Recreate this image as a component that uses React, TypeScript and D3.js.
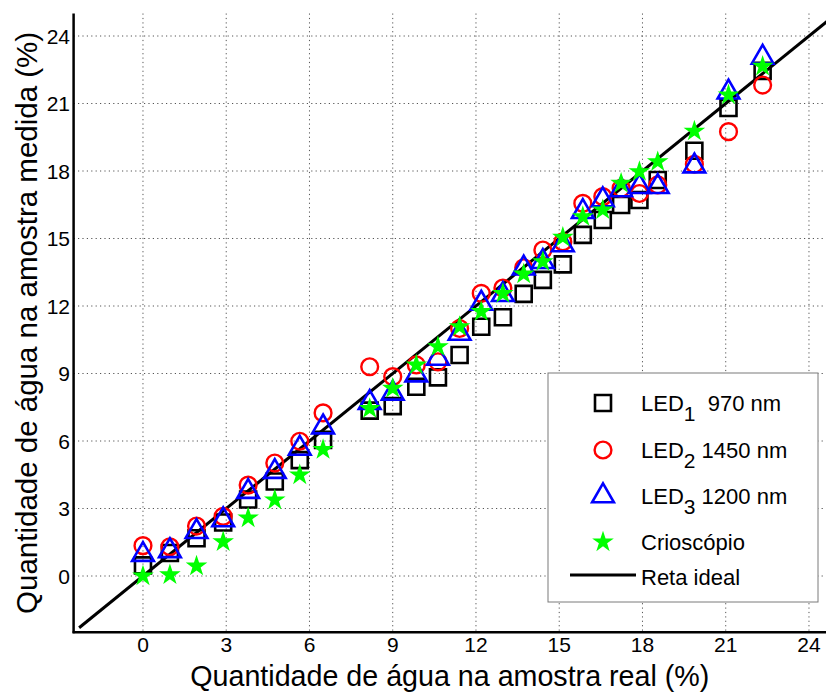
import React from "react";
import * as d3 from "d3";

const xReal = [0, 0.97, 1.93, 2.89, 3.79, 4.75, 5.65, 6.49, 8.17, 9.0, 9.85, 10.63, 11.41, 12.19, 12.97, 13.72, 14.41, 15.13, 15.85, 16.57, 17.23, 17.89, 18.55, 19.87, 21.1, 22.33];
const led1 = [0.47, 1.02, 1.68, 2.38, 3.4, 4.2, 5.15, 6.05, 7.35, 7.55, 8.41, 8.83, 9.82, 11.08, 11.5, 12.54, 13.16, 13.85, 15.16, 15.82, 16.49, 16.71, 17.6, 18.9, 20.8, 22.45];
const led2 = [1.35, 1.3, 2.22, 2.65, 4.04, 5.02, 5.99, 7.25, 9.3, 8.86, 9.38, 9.52, 11.0, 12.56, 12.8, 13.7, 14.49, 14.85, 16.56, 16.86, 17.23, 17.0, 17.38, 18.3, 19.75, 21.82];
const led3 = [0.95, 1.12, 1.97, 2.49, 3.75, 4.64, 5.67, 6.62, 7.7, 8.12, 8.93, 9.67, 10.78, 12.12, 12.5, 13.68, 13.97, 14.71, 16.19, 16.71, 17.16, 17.3, 17.3, 18.22, 21.5, 23.05];
const crio = [0.0, 0.05, 0.44, 1.52, 2.58, 3.38, 4.49, 5.62, 7.44, 8.34, 9.38, 10.19, 11.08, 11.75, 12.55, 13.42, 13.97, 15.05, 15.97, 16.27, 17.45, 17.97, 18.41, 19.77, 21.38, 22.65];
const ticks = [0, 3, 6, 9, 12, 15, 18, 21, 24];
const idealLine = [-2.3, 25];

const W = 826;
const H = 695;

export default function App() {
  const x = d3.scaleLinear().domain([-2.5, 25]).range([73.6, 73.6 + 27.5 * 27.75]);
  const y = d3.scaleLinear().domain([-2.5, 25]).range([632.25, 13.5]);
  const left = x(-2.5);
  const bottom = y(-2.5);
  const top = y(25);
  const right = W;

  const sq = d3.symbol().type(d3.symbolSquare).size(256)()!;
  const tri = d3.symbol().type(d3.symbolTriangle).size(205)()!;
  const star = d3.symbol().type(d3.symbolStar).size(145)()!;
  const line = d3.line<number>().x((d) => x(d)).y((d) => y(d));

  const font = "Liberation Sans, Arial, sans-serif";

  const legendRows = [
    { cy: 403, kind: "sq", main: "LED", sub: "1", rest: "  970 nm" },
    { cy: 450, kind: "ci", main: "LED", sub: "2", rest: " 1450 nm" },
    { cy: 496, kind: "tr", main: "LED", sub: "3", rest: " 1200 nm" },
    { cy: 542, kind: "st", main: "Crioscópio", sub: "", rest: "" },
  ];
  const mx = 603;
  const tx = 641;

  const marker = (kind: string, cx: number, cy: number, key: string | number) => {
    if (kind === "sq")
      return <path key={key} d={sq} transform={`translate(${cx},${cy})`} fill="none" stroke="#000" strokeWidth={2.6} />;
    if (kind === "ci")
      return <circle key={key} cx={cx} cy={cy} r={8.4} fill="none" stroke="#ff0000" strokeWidth={2.4} />;
    if (kind === "tr")
      return <path key={key} d={tri} transform={`translate(${cx},${cy})`} fill="none" stroke="#0000ff" strokeWidth={2.6} />;
    return <path key={key} d={star} transform={`translate(${cx},${cy})`} fill="#00ff00" stroke="none" />;
  };

  return (
    <svg
      width={W}
      height={H}
      style={{ position: "absolute", left: 0, top: 0, background: "#fff" }}
      fontFamily={font}
    >
      <rect width={W} height={H} fill="#fff" />
      <defs>
        <clipPath id="plot">
          <rect x={left} y={top} width={right - left} height={bottom - top} />
        </clipPath>
      </defs>
      {/* grid */}
      <g stroke="#555" strokeWidth={1} strokeDasharray="1.2,3.2">
        {ticks.map((t) => (
          <line key={"gx" + t} x1={x(t)} x2={x(t)} y1={top} y2={bottom} />
        ))}
        {ticks.map((t) => (
          <line key={"gy" + t} x1={left} x2={right} y1={y(t)} y2={y(t)} />
        ))}
      </g>
      {/* ideal line and data */}
      <g clipPath="url(#plot)">
        <path d={line(idealLine)!} stroke="#000" strokeWidth={3} fill="none" />
        {xReal.map((v, i) => marker("sq", x(v), y(led1[i]), "a" + i))}
        {xReal.map((v, i) => marker("ci", x(v), y(led2[i]), "b" + i))}
        {xReal.map((v, i) => marker("tr", x(v), y(led3[i]), "c" + i))}
        {xReal.map((v, i) => marker("st", x(v), y(crio[i]), "d" + i))}
      </g>
      {/* axes */}
      <line x1={left} x2={left} y1={top} y2={bottom + 1} stroke="#000" strokeWidth={2.5} />
      <line x1={left - 1} x2={right} y1={bottom} y2={bottom} stroke="#000" strokeWidth={2.5} />
      <g fontSize={21} fill="#000">
        {ticks.map((t) => (
          <text key={"tx" + t} x={x(t)} y={652} textAnchor="middle">
            {t}
          </text>
        ))}
        {ticks.map((t) => (
          <text key={"ty" + t} x={70} y={y(t) + 7.5} textAnchor="end">
            {t}
          </text>
        ))}
      </g>
      {/* titles */}
      <text
        x={(left + right) / 2}
        y={686}
        textAnchor="middle"
        fontSize={30}
        textLength={519}
        lengthAdjust="spacingAndGlyphs"
      >
        Quantidade de água na amostra real (%)
      </text>
      <text
        transform={`translate(37,${(top + bottom) / 2}) rotate(-90)`}
        textAnchor="middle"
        fontSize={30}
        textLength={582}
        lengthAdjust="spacingAndGlyphs"
      >
        Quantidade de água na amostra medida (%)
      </text>
      {/* legend */}
      <rect x={548} y={373} width={270} height={229} fill="#fff" stroke="#7a7a7a" strokeWidth={1} />
      {legendRows.map((r, i) => (
        <g key={"lg" + i}>
          {marker(r.kind, mx, r.cy, "lm" + i)}
          <text x={tx} y={r.cy + 8} fontSize={22} style={{ whiteSpace: "pre" }}>
            {r.main}
            {r.sub ? (
              <tspan dy={10} fontSize={21}>
                {r.sub}
              </tspan>
            ) : null}
            {r.rest ? <tspan dy={-10}>{r.rest}</tspan> : null}
          </text>
        </g>
      ))}
      <line x1={570} x2={636} y1={575} y2={575} stroke="#000" strokeWidth={3} />
      <text x={tx} y={585} fontSize={22}>
        Reta ideal
      </text>
    </svg>
  );
}
